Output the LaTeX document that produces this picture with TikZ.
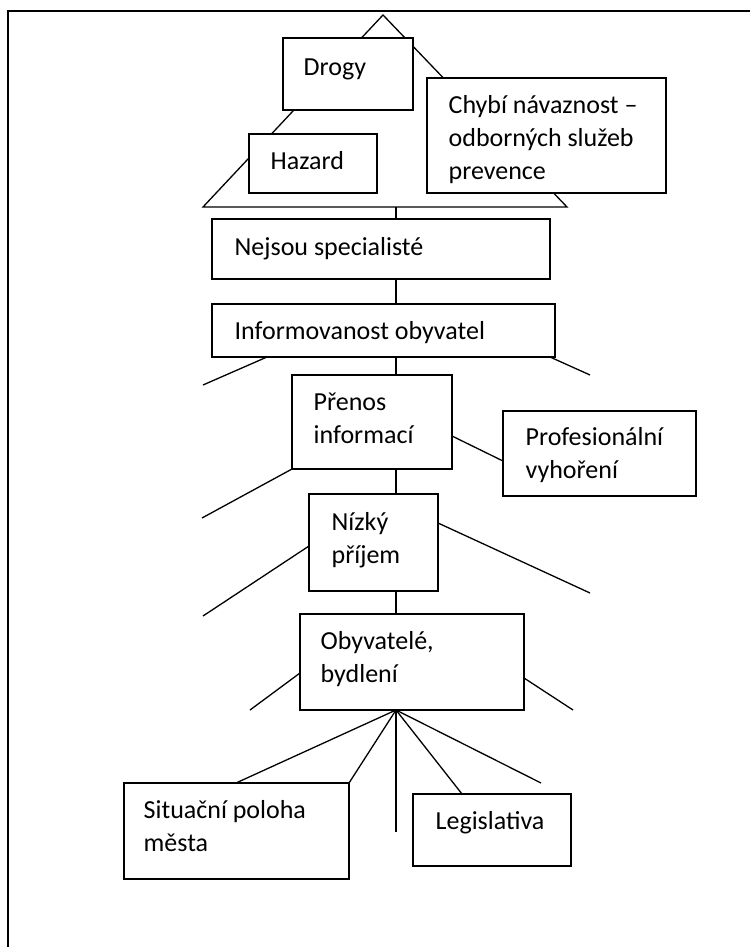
\documentclass[tikz,border=0pt]{standalone}
\usepackage{fontspec}
\setmainfont{Carlito}
\usetikzlibrary{fit}
\begin{document}
\begin{tikzpicture}[x=1pt,y=-1pt,line width=1.3pt,
  box/.style={draw=black,fill=white,inner sep=0pt,outer sep=0pt},
  txt/.style={anchor=north west,inner sep=0pt,align=left,yshift=23.1pt,
    font=\fontsize{26}{33}\selectfont},
  ray/.style={draw=black,line width=1.3pt}]
\useasboundingbox (0,0) rectangle (750,947);
% frame
\draw (8,947) -- (8,11) -- (750,11);
% triangle
\coordinate (apex) at (383,15);
\coordinate (baseL) at (203,207);
\coordinate (baseR) at (567,207);
\coordinate (baseM) at (396,207);
\draw (apex) -- (baseL) -- (baseR) -- cycle;
% boxes
\node[box,fit={(283,38) (413,110)}] (drogy) {};
\node[box,fit={(249,134) (377,193)}] (hazard) {};
\node[box,fit={(427,78) (666,193)}] (chybi) {};
\node[box,fit={(212,219) (550,279)}] (nejsou) {};
\node[box,fit={(212,304) (555,357)}] (infor) {};
\node[box,fit={(292,375) (452,469)}] (prenos) {};
\node[box,fit={(503,411) (696,496)}] (prof) {};
\node[box,fit={(309,494) (438,591)}] (nizky) {};
\node[box,fit={(300,614) (524,710)}] (obyv) {};
\node[box,fit={(124,783) (349,879)}] (situ) {};
\node[box,fit={(413,794) (571,866)}] (legis) {};
% texts
\node[txt] (tdrogy) at (303,75) {\strut Drogy};
\node[txt] (tchybi) at (448,113) {\strut Chybí návaznost –\\odborných služeb\\prevence};
\node[txt] (thazard) at (270,169) {\strut Hazard};
\node[txt] (tnejsou) at (234,255) {\strut Nejsou specialisté};
\node[txt] (tinfor) at (234,339) {\strut Informovanost obyvatel};
\node[txt] (tprenos) at (313,410) {\strut Přenos\\informací};
\node[txt] (tprof) at (525,445) {\strut Profesionální\\vyhoření};
\node[txt] (tnizky) at (331,530) {\strut Nízký\\příjem};
\node[txt] (tobyv) at (320,649) {\strut Obyvatelé,\\bydlení};
\node[txt] (tsitu) at (143,818) {\strut Situační poloha\\města};
\node[txt] (tlegis) at (435,829) {\strut Legislativa};
% stems
\draw (baseM) -- (baseM |- nejsou.north);
\draw (nejsou.south -| baseM) -- (infor.north -| baseM);
\draw (infor.south -| baseM) -- (prenos.north -| baseM);
\draw (prenos.south -| baseM) -- (nizky.north -| baseM);
\draw (nizky.south -| baseM) -- (obyv.north -| baseM);
% free ends
\coordinate (r1) at (203,385);
\coordinate (r2) at (590,375);
\coordinate (r3) at (202,518);
\coordinate (r4) at (203,616);
\coordinate (r5) at (590,593);
\coordinate (r6) at (250,710);
\coordinate (r7) at (573,710);
\coordinate (vfree) at (396,832);
\coordinate (hfree) at (541,783);
% rays
\draw[ray] ([xshift=55pt]infor.south west) -- (r1);
\draw[ray] ([xshift=-5pt]infor.south east) -- (r2);
\draw[ray] (prenos.south west) -- (r3);
\draw[ray] ([yshift=-61pt]prenos.north east) -- ([yshift=-50pt]prof.north west);
\draw[ray] ([yshift=-52pt]nizky.north west) -- (r4);
\draw[ray] ([yshift=-29pt]nizky.north east) -- (r5);
\draw[ray] ([yshift=-59pt]obyv.north west) -- (r6);
\draw[ray] ([yshift=-64pt]obyv.north east) -- (r7);
% hub
\coordinate (hub) at (obyv.south -| baseM);
\draw[ray] (hub) -- ([xshift=112pt]situ.north west);
\draw[ray] (hub) -- (situ.north east);
\draw[ray] (hub) -- (vfree);
\draw[ray] (hub) -- ([xshift=49pt]legis.north west);
\draw[ray] (hub) -- (hfree);
\end{tikzpicture}
\end{document}
